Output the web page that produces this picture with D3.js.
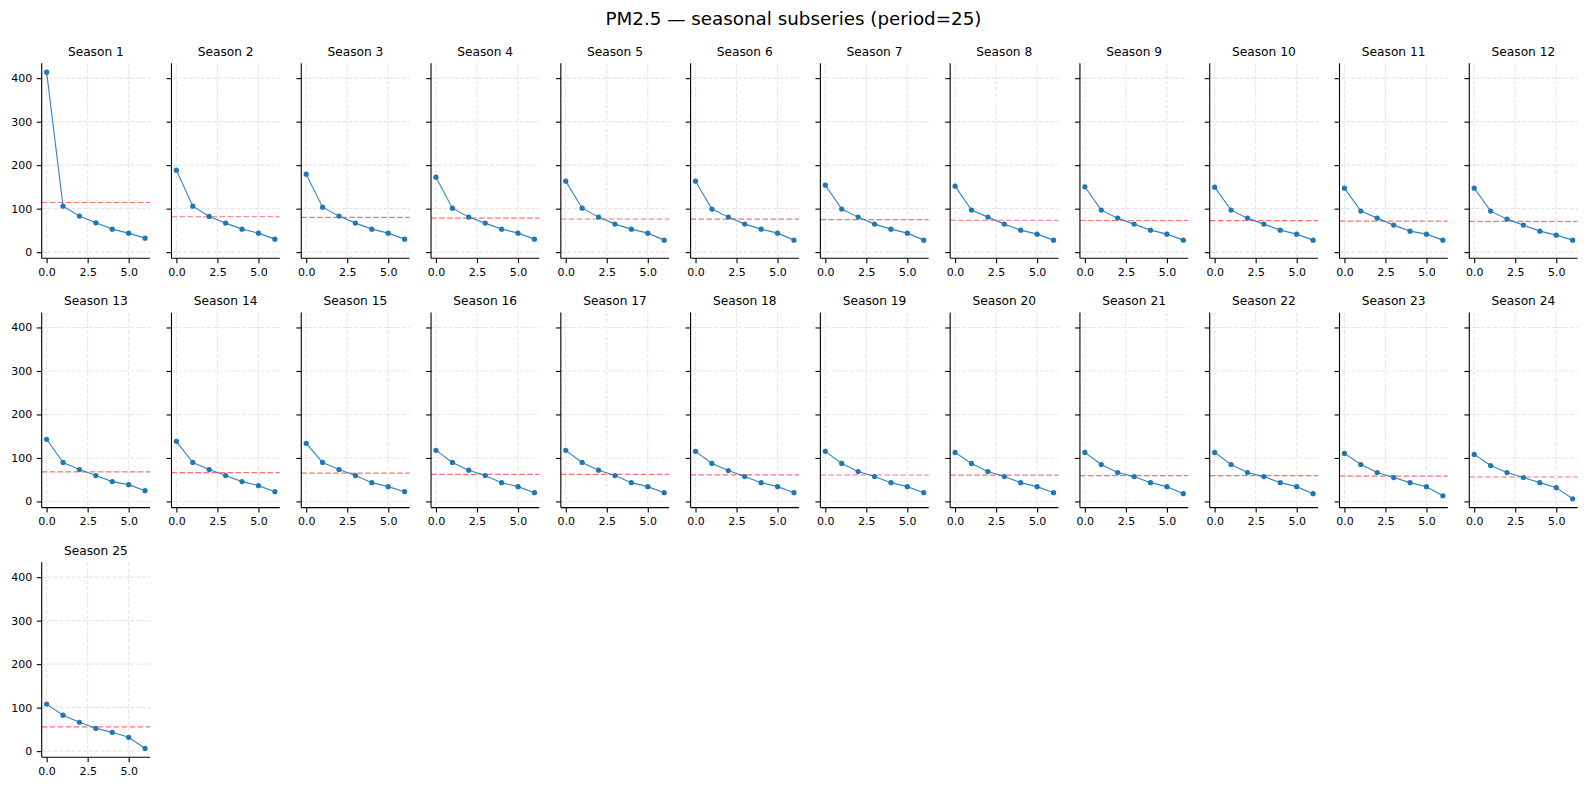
<!DOCTYPE html>
<html>
<head>
<meta charset="utf-8">
<script src="https://cdn.jsdelivr.net/npm/d3@7"></script>
<style>
  body { margin: 0; background: #fff; }
  text { font-family: "DejaVu Sans", sans-serif; }
</style>
</head>
<body>
<div id="canvas"></div>
<script>
"use strict";

/**** DATA ****/
let chartTitle = "PM2.5 — seasonal subseries (period=25)";
let cycleIndex = [0, 1, 2, 3, 4, 5, 6];
let xTicks = [0, 2.5, 5];
let yTicks = [0, 100, 200, 300, 400];

// one list of 7 cycle values per season
let seasonValues = [
    [413.8, 105.7, 82.8, 67.4, 52.9, 43.7, 32.2],
    [188.5, 105.7, 82.0, 66.7, 52.9, 43.7, 29.9],
    [179.3, 103.4, 82.8, 66.7, 52.9, 43.7, 29.9],
    [172.4, 101.1, 80.5, 66.7, 52.9, 43.7, 29.9],
    [163.2, 101.1, 80.5, 64.4, 52.9, 43.7, 27.6],
    [163.2, 98.9, 80.5, 64.4, 52.9, 43.7, 27.6],
    [154.0, 98.9, 80.5, 64.4, 52.9, 43.7, 27.6],
    [151.7, 96.6, 80.5, 64.4, 50.6, 41.4, 27.6],
    [150.2, 96.6, 78.2, 64.4, 50.6, 41.4, 27.6],
    [149.4, 96.6, 78.2, 64.4, 50.6, 41.4, 27.6],
    [147.1, 94.3, 78.2, 62.1, 48.3, 41.4, 27.6],
    [147.1, 94.3, 75.9, 62.1, 48.3, 39.1, 27.6],
    [142.9, 89.6, 73.4, 59.5, 45.6, 38.6, 24.7],
    [138.2, 89.6, 73.4, 59.5, 45.6, 36.3, 22.4],
    [133.6, 89.6, 73.4, 59.5, 43.2, 34.0, 22.4],
    [117.4, 89.6, 71.8, 59.5, 43.2, 34.0, 20.1],
    [117.4, 89.6, 71.8, 59.5, 43.2, 34.0, 20.1],
    [115.1, 87.3, 71.0, 57.1, 43.2, 34.0, 20.1],
    [115.1, 87.3, 68.7, 57.1, 43.2, 34.0, 20.1],
    [112.7, 87.3, 68.7, 57.1, 43.2, 34.0, 20.1],
    [112.7, 84.9, 66.4, 57.1, 43.2, 34.0, 17.8],
    [112.7, 84.9, 66.4, 57.1, 43.2, 34.0, 17.8],
    [110.4, 84.9, 66.4, 54.8, 43.2, 34.0, 13.1],
    [108.1, 82.6, 66.4, 54.8, 43.2, 31.7, 6.2],
    [108.1, 82.6, 66.4, 52.5, 43.2, 31.7, 6.2]
];

/**** LAYOUT ****/
let svgWidth = 1587;
let svgHeight = 787;
let nCols = 12;
let panelLeft = 41.7;
let panelStepX = 129.78;
let panelWidth = 108.3;
let panelTops = [63.3, 312.6, 562.3];
let panelHeight = 195;

let blue = "#1f77b4";
let meanRed = "#ff7070";
let tickLen = 4.9;

let svg = d3.select("#canvas")
    .append("svg")
    .attr("width", svgWidth)
    .attr("height", svgHeight);

svg.append("text")
    .attr("x", svgWidth / 2)
    .attr("y", 24.5)
    .attr("text-anchor", "middle")
    .style("font-size", "18.3px")
    .attr("fill", "#000")
    .text(chartTitle);

/**** SHARED SCALES ****/
let allValues = seasonValues.flat();
let yMin = d3.min(allValues);
let yMax = d3.max(allValues);
let yPad = (yMax - yMin) * 0.05;

let yScale = d3.scaleLinear()
    .domain([yMin - yPad, yMax + yPad])
    .range([panelHeight, 0]);

let xScale = d3.scaleLinear()
    .domain([-0.3, 6.3])
    .range([0, panelWidth]);

let line = d3.line()
    .x(function(d, i) { return xScale(cycleIndex[i]); })
    .y(function(d) { return yScale(d); });

/**** PANELS ****/
for (let s = 0; s < seasonValues.length; s++) {
    let col = s % nCols;
    let row = Math.floor(s / nCols);
    let values = seasonValues[s];

    let g = svg.append("g")
        .attr("transform", `translate(${panelLeft + col * panelStepX},${panelTops[row]})`);

    // grid
    g.selectAll(".gx")
        .data(xTicks)
        .join("line")
        .attr("x1", function(d) { return xScale(d); })
        .attr("x2", function(d) { return xScale(d); })
        .attr("y1", 0)
        .attr("y2", panelHeight)
        .attr("stroke", "#b0b0b0")
        .attr("stroke-opacity", 0.3)
        .attr("stroke-width", 1.1)
        .attr("stroke-dasharray", "4.1,1.8");

    g.selectAll(".gy")
        .data(yTicks)
        .join("line")
        .attr("x1", 0)
        .attr("x2", panelWidth)
        .attr("y1", function(d) { return yScale(d); })
        .attr("y2", function(d) { return yScale(d); })
        .attr("stroke", "#b0b0b0")
        .attr("stroke-opacity", 0.3)
        .attr("stroke-width", 1.1)
        .attr("stroke-dasharray", "4.1,1.8");

    // mean line
    let meanValue = d3.mean(values);
    g.append("line")
        .attr("x1", 0)
        .attr("x2", panelWidth)
        .attr("y1", yScale(meanValue))
        .attr("y2", yScale(meanValue))
        .attr("stroke", meanRed)
        .attr("stroke-width", 1.2)
        .attr("stroke-dasharray", "5.6,2.4");

    // series
    g.append("path")
        .datum(values)
        .attr("d", line)
        .attr("fill", "none")
        .attr("stroke", blue)
        .attr("stroke-opacity", 0.9)
        .attr("stroke-width", 1.1);

    g.selectAll("circle")
        .data(values)
        .join("circle")
        .attr("cx", function(d, i) { return xScale(cycleIndex[i]); })
        .attr("cy", function(d) { return yScale(d); })
        .attr("r", 2.6)
        .attr("fill", blue);

    // axes
    let xAxis = d3.axisBottom(xScale)
        .tickValues(xTicks)
        .tickSize(tickLen)
        .tickPadding(4.6)
        .tickFormat(d3.format(".1f"));

    let yAxis = d3.axisLeft(yScale)
        .tickValues(yTicks)
        .tickSize(tickLen)
        .tickPadding(4.6)
        .tickFormat(col === 0 ? d3.format("d") : "");

    let xg = g.append("g")
        .attr("transform", `translate(0,${panelHeight})`)
        .call(xAxis);
    let yg = g.append("g").call(yAxis);

    [xg, yg].forEach(function(ax) {
        ax.select(".domain")
            .attr("d", ax === xg ? `M0,0H${panelWidth}` : `M0,0V${panelHeight}`)
            .attr("stroke", "#000")
            .attr("stroke-width", 1.1);
        ax.selectAll(".tick line").attr("stroke", "#000").attr("stroke-width", 1.1);
        ax.selectAll(".tick text")
            .attr("fill", "#000")
            .style("font-size", "11px")
            .style("font-family", "DejaVu Sans, sans-serif");
    });

    // panel title
    g.append("text")
        .attr("x", panelWidth / 2)
        .attr("y", -7.3)
        .attr("text-anchor", "middle")
        .style("font-size", "12.2px")
        .attr("fill", "#000")
        .text(`Season ${s + 1}`);
}
</script>
</body>
</html>
